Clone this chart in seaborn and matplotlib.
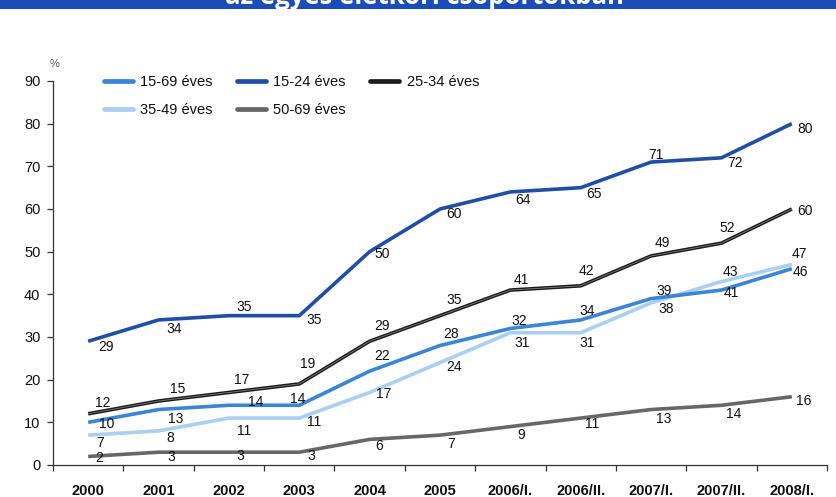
import matplotlib
matplotlib.use("Agg")
import matplotlib.pyplot as plt
from matplotlib.lines import Line2D
from matplotlib.patches import Rectangle
import pandas as pd
import seaborn as sns

# ---- data -------------------------------------------------------------
periods = ["2000", "2001", "2002", "2003", "2004", "2005",
           "2006/I.", "2006/II.", "2007/I.", "2007/II.", "2008/I."]
age_15_69 = [10, 13, 14, 14, 22, 28, 32, 34, 39, 41, 46]
age_15_24 = [29, 34, 35, 35, 50, 60, 64, 65, 71, 72, 80]
age_25_34 = [12, 15, 17, 19, 29, 35, 41, 42, 49, 52, 60]
age_35_49 = [7, 8, 11, 11, 17, 24, 31, 31, 38, 43, 47]
age_50_69 = [2, 3, 3, 3, 6, 7, 9, 11, 13, 14, 16]
series_names = ["15-69 éves", "15-24 éves", "25-34 éves", "35-49 éves", "50-69 éves"]
title_text = "az egyes életkori csoportokban"

values = {
    "15-69 éves": age_15_69,
    "15-24 éves": age_15_24,
    "25-34 éves": age_25_34,
    "35-49 éves": age_35_49,
    "50-69 éves": age_50_69,
}

# ---- styling ----------------------------------------------------------
colors = {
    "15-69 éves": "#3a85d6",
    "15-24 éves": "#1f4ea8",
    "25-34 éves": "#1c1c1c",
    "35-49 éves": "#a9cff2",
    "50-69 éves": "#676767",
}
draw_order = ["50-69 éves", "35-49 éves", "15-69 éves", "25-34 éves", "15-24 éves"]

# value label offsets in pixels (right, down) from each point
label_offsets = {
    "15-24 éves": [(18, 6), (16, 9), (15, -9), (15, 4), (13, 2), (14, 5),
                   (13, 8), (13, 6), (5, -7), (14, 5), (13, 5)],
    "25-34 éves": [(15, -11), (19, -12), (13, -12), (8, -20), (12, -15), (14, -16),
                   (11, -10), (6, -15), (11, -13), (6, -15), (13, 2)],
    "15-69 éves": [(19, 2), (17, 9), (27, -3), (-2, -6), (12, -15), (11, -12),
                   (9, -7), (6, -9), (13, -8), (10, 3), (9, 3)],
    "35-49 éves": [(12, 8), (12, 7), (15, 13), (15, 4), (14, 2), (14, 4),
                   (12, 10), (6, 10), (15, 6), (9, -10), (8, -10)],
    "50-69 éves": [(11, 2), (13, 5), (11, 4), (12, 4), (9, 7), (11, 9),
                   (11, 8), (11, 6), (13, 9), (12, 9), (12, 4)],
}

sns.set_theme(style="white")
plt.rcParams["font.family"] = ["Liberation Sans", "DejaVu Sans"]

W, H = 836, 497
fig = plt.figure(figsize=(W / 100, H / 100), dpi=100)
fig.patch.set_facecolor("white")
ax = fig.add_axes([53 / W, 1 - 465 / H, (827 - 53) / W, (465 - 81) / H])
ax.set_facecolor("white")

rows = []
for name in series_names:
    for i, (p, v) in enumerate(zip(periods, values[name])):
        rows.append({"pos": i, "period": p, "value": v, "series": name})
df = pd.DataFrame(rows)

for name in draw_order:
    sub = df[df["series"] == name]
    sns.lineplot(data=sub, x="pos", y="value", color=colors[name],
                 linewidth=2.6, ax=ax, legend=False, zorder=3,
                 solid_capstyle="butt", solid_joinstyle="round")
    if name == "25-34 éves":
        # thin lighter core gives the dark line its printed double-stroke look
        sns.lineplot(data=sub, x="pos", y="value", color="#8a8a8a",
                     linewidth=0.5, ax=ax, legend=False, zorder=3.1)
    for i, v in enumerate(values[name]):
        dx, dy = label_offsets[name][i]
        ax.annotate(str(v), (i, v), xytext=(dx, -dy), textcoords="offset pixels",
                    ha="center", va="center", fontsize=10, color="#111111",
                    zorder=5)

# ---- axes -------------------------------------------------------------
ax.set_xlim(-0.5, len(periods) - 0.5)
ax.set_ylim(0, 90)
ax.set_yticks(range(0, 91, 10))
ax.set_xticks(range(len(periods)))
ax.set_xticklabels(periods, fontsize=10.5, fontweight="bold", color="#111111")
ax.set_xticks([i + 0.5 for i in range(-1, len(periods))], minor=True)
ax.tick_params(axis="x", which="major", length=0, pad=14)
ax.tick_params(axis="x", which="minor", length=4, width=0.9, color="#333333",
               direction="out", bottom=True)
ax.tick_params(axis="y", length=4, width=0.9, color="#333333", direction="out",
               left=True, pad=5, labelsize=10.5, labelcolor="#111111")
ax.set_xlabel("")
ax.set_ylabel("")
for side in ["top", "right"]:
    ax.spines[side].set_visible(False)
for side in ["left", "bottom"]:
    ax.spines[side].set_color("#333333")
    ax.spines[side].set_linewidth(0.9)
ax.grid(False)

fig.text(55 / W, 1 - 64 / H, "%", fontsize=8, color="#555555",
         ha="center", va="center")

# ---- legend -----------------------------------------------------------
legend_order = ["15-69 éves", "35-49 éves", "15-24 éves", "50-69 éves", "25-34 éves"]
handles = [Line2D([0], [0], color=colors[n], lw=3.4, solid_capstyle="round")
           for n in legend_order]
leg = fig.legend(handles, legend_order, ncol=3, loc="upper left",
                 bbox_to_anchor=(104 / W, 1 - 75 / H), frameon=False,
                 fontsize=10.5, handlelength=2.0, handletextpad=0.5,
                 columnspacing=1.65, labelspacing=0.95, borderpad=0,
                 borderaxespad=0)
for t in leg.get_texts():
    t.set_color("#111111")

# ---- title banner (top edge) -----------------------------------------
fig.patches.append(Rectangle((0, 1 - 9 / H), 1, 9 / H, transform=fig.transFigure,
                             facecolor="#1b4db8", edgecolor="none", zorder=0))
fig.text(424 / W, 1 - 4 / H, title_text, fontsize=18.5, fontweight="bold",
         color="white", ha="center", va="baseline",
         family=["Open Sans", "DejaVu Sans"])

fig.savefig("out.png", dpi=100, facecolor="white")
